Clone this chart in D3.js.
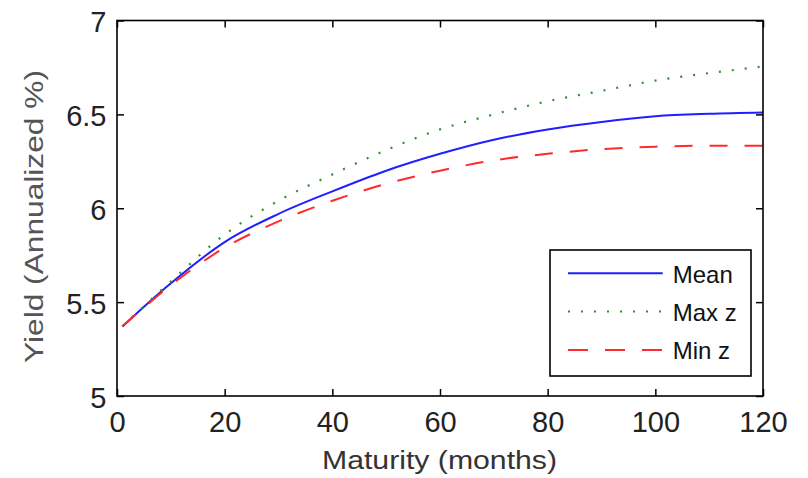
<!DOCTYPE html>
<html>
<head>
  <meta charset="UTF-8" />
  <title>Yield curves</title>
  <script src="https://d3js.org/d3.v7.min.js"></script>
  <style>
    body { margin: 0; background: #fff; }
    text { font-family: "Liberation Sans", Arial, sans-serif; fill: #222; }
  </style>
</head>
<body>
  <div id="chart"></div>
  <script>
    // values
    const months = [1, 10, 20, 30, 40, 50, 60, 70, 80, 90, 100, 110, 120];
    const meanYield = [5.37, 5.60, 5.82, 5.97, 6.09, 6.20, 6.29, 6.365, 6.42, 6.46, 6.49, 6.503, 6.51];
    const maxZYield = [5.37, 5.61, 5.86, 6.04, 6.18, 6.31, 6.42, 6.50, 6.57, 6.625, 6.68, 6.72, 6.755];
    const minZYield = [5.37, 5.59, 5.79, 5.93, 6.04, 6.13, 6.20, 6.255, 6.29, 6.315, 6.328, 6.333, 6.333];
    const xTicks = [0, 20, 40, 60, 80, 100, 120];
    const yTicks = [5, 5.5, 6, 6.5, 7];

    const series = [
      { name: "Mean", values: meanYield, color: "#1f1fff", dash: null },
      { name: "Max z", values: maxZYield, color: "#2f8f2f", dash: "2,11" },
      { name: "Min z", values: minZYield, color: "#ff2a2a", dash: "18,17" }
    ];

    const width = 808, height = 478;
    const margin = { left: 117, right: 45, top: 20.5, bottom: 82 };
    const innerW = width - margin.left - margin.right;
    const innerH = height - margin.top - margin.bottom;

    const svg = d3.select("#chart")
      .append("svg")
      .attr("width", width)
      .attr("height", height);

    const g = svg.append("g")
      .attr("transform", "translate(" + margin.left + "," + margin.top + ")");

    const x = d3.scaleLinear().domain([0, 120]).range([0, innerW]);
    const y = d3.scaleLinear().domain([5, 7]).range([innerH, 0]);

    // lines
    const line = d3.line()
      .x((d, i) => x(months[i]))
      .y(d => y(d))
      .curve(d3.curveMonotoneX);

    series.forEach(s => {
      g.append("path")
        .datum(s.values)
        .attr("fill", "none")
        .attr("stroke", s.color)
        .attr("stroke-width", s.dash === "2,11" ? 2.2 : 2)
        .attr("stroke-dasharray", s.dash)
        .attr("d", line);
    });

    // axes, ticks inward on all sides
    const tickLen = 7;
    g.append("g")
      .attr("transform", "translate(0," + innerH + ")")
      .call(d3.axisBottom(x).tickValues(xTicks).tickSizeInner(-tickLen).tickSizeOuter(0).tickPadding(15.5))
      .call(a => a.selectAll("text").attr("font-size", 29))
      .call(a => a.select(".domain").remove());
    g.append("g")
      .call(d3.axisTop(x).tickValues(xTicks).tickSizeInner(-tickLen).tickSizeOuter(0))
      .call(a => a.selectAll("text").remove())
      .call(a => a.select(".domain").remove());
    g.append("g")
      .call(d3.axisLeft(y).tickValues(yTicks).tickFormat(d3.format("")).tickSizeInner(-tickLen).tickSizeOuter(0).tickPadding(10.5))
      .call(a => a.selectAll("text").attr("font-size", 29).attr("dy", "0.38em"))
      .call(a => a.select(".domain").remove());
    g.append("g")
      .attr("transform", "translate(" + innerW + ",0)")
      .call(d3.axisRight(y).tickValues(yTicks).tickSizeInner(-tickLen).tickSizeOuter(0))
      .call(a => a.selectAll("text").remove())
      .call(a => a.select(".domain").remove());
    g.selectAll(".tick line").attr("stroke", "#000").attr("stroke-width", 1.5);
    g.selectAll(".tick text").style("fill", "#222");

    // frame
    g.append("rect")
      .attr("width", innerW)
      .attr("height", innerH)
      .attr("fill", "none")
      .attr("stroke", "#000")
      .attr("stroke-width", 1.6);

    // axis titles
    svg.append("text")
      .attr("x", 439.5)
      .attr("y", 469)
      .attr("text-anchor", "middle")
      .attr("font-size", 26)
      .attr("textLength", 235)
      .attr("lengthAdjust", "spacingAndGlyphs")
      .style("fill", "#333")
      .text("Maturity (months)");
    svg.append("text")
      .attr("transform", "translate(43,216.5) rotate(-90)")
      .attr("text-anchor", "middle")
      .attr("font-size", 26)
      .attr("textLength", 293)
      .attr("lengthAdjust", "spacingAndGlyphs")
      .style("fill", "#555")
      .text("Yield (Annualized %)");

    // legend
    const legend = svg.append("g").attr("transform", "translate(550,250)");
    legend.append("rect")
      .attr("width", 201)
      .attr("height", 126)
      .attr("fill", "#fff")
      .attr("stroke", "#000")
      .attr("stroke-width", 1.6);
    series.forEach((s, i) => {
      const ly = 23.3 + i * 38.3;
      legend.append("line")
        .attr("x1", 18).attr("x2", 112.7)
        .attr("y1", ly).attr("y2", ly)
        .attr("stroke", s.color)
        .attr("stroke-width", 2)
        .attr("stroke-dasharray", s.dash === "18,17" ? "20,17" : (s.dash ? "2,11" : null));
      legend.append("text")
        .attr("x", 122.7)
        .attr("y", ly + 9.2)
        .attr("font-size", 24)
        .style("fill", "#111")
        .text(s.name);
    });
  </script>
</body>
</html>
